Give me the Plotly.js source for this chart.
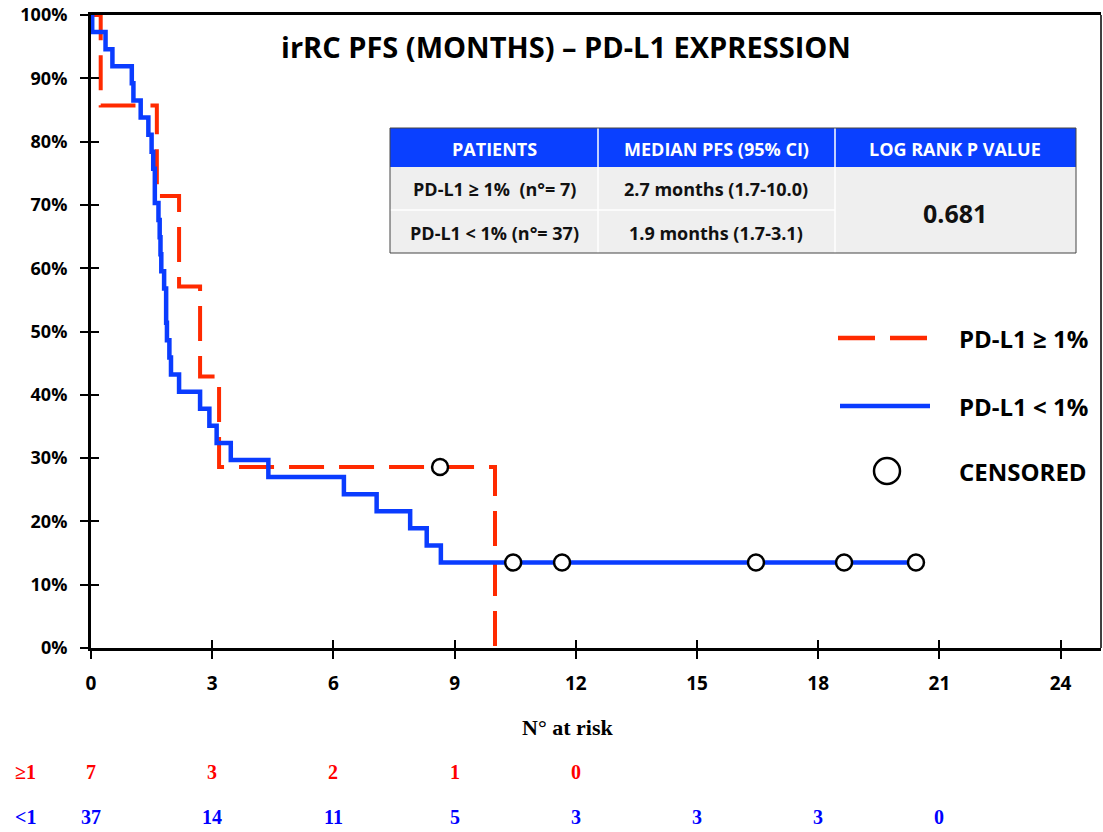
<!DOCTYPE html>
<html>
<head>
<meta charset="utf-8">
<script src="https://cdn.plot.ly/plotly-3.0.1.min.js"></script>
<style>html,body{margin:0;padding:0;background:#fff;}#chart{width:1103px;height:832px;}</style>
</head>
<body>
<div id="chart"></div>
<script>
// ---- Kaplan-Meier data (months, % progression-free) ----
const posTimes = [0, 0.24, 1.63, 2.18, 2.70, 3.17, 10.0];
const posSurv  = [100, 85.7, 71.4, 57.1, 42.9, 28.6, 0];
const posCensTimes = [8.64];
const posCensSurv  = [28.6];

const negTimes = [0, 0.03, 0.36, 0.53, 1.01, 1.05, 1.23, 1.42, 1.50, 1.54, 1.58, 1.67, 1.70, 1.72, 1.74, 1.81, 1.86, 1.88, 1.94, 1.98, 2.18, 2.70, 2.93, 3.11, 3.46, 4.39, 6.26, 7.07, 7.90, 8.31, 8.66, 20.42];
const negSurv  = [100, 97.3, 94.6, 91.9, 89.2, 86.5, 83.8, 81.1, 78.4, 75.7, 70.3, 67.6, 64.9, 62.2, 59.5, 56.8, 51.4, 48.6, 45.9, 43.2, 40.5, 37.8, 35.1, 32.4, 29.7, 27.0, 24.3, 21.6, 18.9, 16.2, 13.5, 13.5];
const negCensTimes = [10.45, 11.66, 16.46, 18.64, 20.42];
const negCensSurv  = [13.5, 13.5, 13.5, 13.5, 13.5];

// ---- Number at risk ----
const riskTimesPos = [0, 3, 6, 9, 12];
const riskPos      = [7, 3, 2, 1, 0];
const riskTimesNeg = [0, 3, 6, 9, 12, 15, 18, 21];
const riskNeg      = [37, 14, 11, 5, 3, 3, 3, 0];
const riskLabels   = ['≥1', '<1'];

// ---- Table text ----
const tableHeader = ['PATIENTS', 'MEDIAN PFS (95% CI)', 'LOG RANK P VALUE'];
const tableGroups = ['PD-L1 ≥ 1%  (n°= 7)', 'PD-L1 < 1% (n°= 37)'];
const tableMedians = ['2.7 months (1.7-10.0)', '1.9 months (1.7-3.1)'];
const pValue = '0.681';

const legendNames = ['PD-L1 ≥ 1%', 'PD-L1 < 1%', 'CENSORED'];
const xTicks = [0, 3, 6, 9, 12, 15, 18, 21, 24];

const RED = '#ff2a00', BLUE = '#0a3cff';
const SANS = 'Open Sans, Liberation Sans, sans-serif';
const SERIF = 'Liberation Serif, Times New Roman, serif';

const traces = [
  {x: posTimes, y: posSurv, mode: 'lines', line: {shape: 'hv', color: RED, width: 4, dash: '35px,15px'}, hoverinfo: 'skip', showlegend: false},
  {x: negTimes, y: negSurv, mode: 'lines', line: {shape: 'hv', color: BLUE, width: 4.5}, hoverinfo: 'skip', showlegend: false},
  {x: posCensTimes.concat(negCensTimes), y: posCensSurv.concat(negCensSurv), mode: 'markers',
   marker: {symbol: 'circle', size: 16, color: '#ffffff', line: {color: '#000000', width: 2.5}},
   cliponaxis: false, hoverinfo: 'skip', showlegend: false},
  {x: [], y: [], xaxis: 'x2', yaxis: 'y2', showlegend: false}
];

// Plot area in pixels: left 91, right 1101, top 15, bottom 648
const L = 91, R = 1101, T = 15, B = 648;
const px = v => (v - L) / (R - L);
const py = v => (B - v) / (B - T);

const shapes = [];
const annotations = [];

// right border
shapes.push({type: 'line', xref: 'paper', yref: 'paper', x0: 1, x1: 1, y0: 0, y1: 1, line: {color: '#000', width: 1.5}});

// Table
const tx = [390, 598, 835, 1076].map(px);
const ty = [128, 167, 210, 253].map(py);
shapes.push({type: 'rect', xref: 'paper', yref: 'paper', x0: tx[0], x1: tx[3], y0: ty[3], y1: ty[1], fillcolor: '#efefef', line: {width: 0}, layer: 'above'});
shapes.push({type: 'rect', xref: 'paper', yref: 'paper', x0: tx[0], x1: tx[3], y0: ty[1], y1: ty[0], fillcolor: '#0a40ff', line: {width: 0}, layer: 'above'});
shapes.push({type: 'line', xref: 'paper', yref: 'paper', x0: tx[1], x1: tx[1], y0: ty[3], y1: ty[0], line: {color: '#ffffff', width: 1.5}, layer: 'above'});
shapes.push({type: 'line', xref: 'paper', yref: 'paper', x0: tx[2], x1: tx[2], y0: ty[3], y1: ty[0], line: {color: '#ffffff', width: 1.5}, layer: 'above'});
shapes.push({type: 'line', xref: 'paper', yref: 'paper', x0: tx[0], x1: tx[2], y0: ty[2], y1: ty[2], line: {color: '#ffffff', width: 1.5}, layer: 'above'});
shapes.push({type: 'rect', xref: 'paper', yref: 'paper', x0: tx[0], x1: tx[3], y0: ty[3], y1: ty[0], line: {color: '#444', width: 1}, layer: 'above'});

const colCenters = [494, 716, 955].map(px);
tableHeader.forEach((t, i) => annotations.push({xref: 'paper', yref: 'paper', x: colCenters[i], y: py(149), text: t, showarrow: false,
  font: {family: SANS, size: 18, color: '#ffffff', weight: 'bold'}, xanchor: 'center', yanchor: 'middle'}));
const rowYs = [py(189), py(233)];
tableGroups.forEach((t, i) => annotations.push({xref: 'paper', yref: 'paper', x: colCenters[0], y: rowYs[i], text: t, showarrow: false,
  font: {family: SANS, size: 18, color: '#111', weight: 'bold'}, xanchor: 'center', yanchor: 'middle'}));
tableMedians.forEach((t, i) => annotations.push({xref: 'paper', yref: 'paper', x: colCenters[1], y: rowYs[i], text: t, showarrow: false,
  font: {family: SANS, size: 18, color: '#111', weight: 'bold'}, xanchor: 'center', yanchor: 'middle'}));
annotations.push({xref: 'paper', yref: 'paper', x: colCenters[2], y: py(213), text: pValue, showarrow: false,
  font: {family: SANS, size: 25, color: '#111', weight: 'bold'}, xanchor: 'center', yanchor: 'middle'});

// Legend
shapes.push({type: 'line', xref: 'paper', yref: 'paper', x0: px(838), x1: px(928), y0: py(338), y1: py(338), line: {color: RED, width: 4.5, dash: '37px,15px'}});
shapes.push({type: 'line', xref: 'paper', yref: 'paper', x0: px(840), x1: px(930), y0: py(406), y1: py(406), line: {color: BLUE, width: 4.5}});
shapes.push({type: 'circle', xref: 'paper', yref: 'paper', xsizemode: 'pixel', ysizemode: 'pixel', xanchor: px(887), yanchor: py(471),
  x0: -13, x1: 13, y0: -13, y1: 13, fillcolor: '#ffffff', line: {color: '#000', width: 2.5}});
const legYs = [py(338), py(406), py(472)];
legendNames.forEach((t, i) => annotations.push({xref: 'paper', yref: 'paper', x: px(957), y: legYs[i], text: t, showarrow: false,
  font: {family: SANS, size: 24, color: '#000', weight: 'bold'}, xanchor: 'left', yanchor: 'middle'}));

// Number at risk
annotations.push({xref: 'paper', yref: 'paper', x: px(567), y: py(727), text: 'N° at risk', showarrow: false,
  font: {family: SERIF, size: 22, color: '#000', weight: 'bold'}, xanchor: 'center', yanchor: 'middle'});
annotations.push({xref: 'paper', yref: 'paper', x: px(25), y: py(772), text: riskLabels[0], showarrow: false,
  font: {family: SERIF, size: 20, color: '#ff0000', weight: 'bold'}, xanchor: 'center', yanchor: 'middle'});
annotations.push({xref: 'paper', yref: 'paper', x: px(25), y: py(817), text: riskLabels[1], showarrow: false,
  font: {family: SERIF, size: 20, color: '#0000ff', weight: 'bold'}, xanchor: 'center', yanchor: 'middle'});
riskTimesPos.forEach((t, i) => annotations.push({xref: 'x', yref: 'paper', x: t, y: py(772), text: String(riskPos[i]), showarrow: false,
  font: {family: SERIF, size: 20, color: '#ff0000', weight: 'bold'}, xanchor: 'center', yanchor: 'middle'}));
riskTimesNeg.forEach((t, i) => annotations.push({xref: 'x', yref: 'paper', x: t, y: py(817), text: String(riskNeg[i]), showarrow: false,
  font: {family: SERIF, size: 20, color: '#0000ff', weight: 'bold'}, xanchor: 'center', yanchor: 'middle'}));

const xTickFont = {family: SANS, size: 19, color: '#000', weight: 'bold'};
const yTickFont = {family: SANS, size: 18, color: '#000', weight: 'bold'};
const layout = {
  width: 1103, height: 832,
  margin: {l: L, r: 1103 - R, t: T, b: 832 - B},
  paper_bgcolor: '#ffffff', plot_bgcolor: '#ffffff',
  title: {text: 'irRC PFS (MONTHS) – PD-L1 EXPRESSION', x: 566 / 1103, xanchor: 'center', y: 1 - 48 / 832, yanchor: 'middle',
          font: {family: SANS, size: 29, color: '#000', weight: 'bold'}},
  xaxis: {range: [0, 25], tickvals: xTicks, ticks: 'outside', ticklen: 8, tickwidth: 2, tickcolor: '#000',
          showline: true, linecolor: '#000', linewidth: 3, mirror: true, showgrid: false, zeroline: false,
          tickfont: xTickFont, ticklabelstandoff: 8, fixedrange: true},
  yaxis: {range: [0, 100], dtick: 10, ticksuffix: '%', ticks: 'outside', ticklen: 8, tickwidth: 2, tickcolor: '#000',
          showline: true, linecolor: '#000', linewidth: 3, showgrid: false, zeroline: false,
          tickfont: yTickFont, ticklabelstandoff: 9, fixedrange: true},
  xaxis2: {overlaying: 'x', anchor: 'y2', range: [0, 25], tickvals: xTicks, ticks: 'inside', ticklen: 8, tickwidth: 2, tickcolor: '#000',
           showticklabels: false, showline: false, showgrid: false, zeroline: false},
  yaxis2: {overlaying: 'y', anchor: 'x2', range: [0, 100], dtick: 10, ticks: 'inside', ticklen: 8, tickwidth: 2, tickcolor: '#000',
           showticklabels: false, showline: false, showgrid: false, zeroline: false},
  shapes: shapes,
  annotations: annotations,
  showlegend: false
};

Plotly.newPlot('chart', traces, layout, {displayModeBar: false, staticPlot: true});
</script>
</body>
</html>
